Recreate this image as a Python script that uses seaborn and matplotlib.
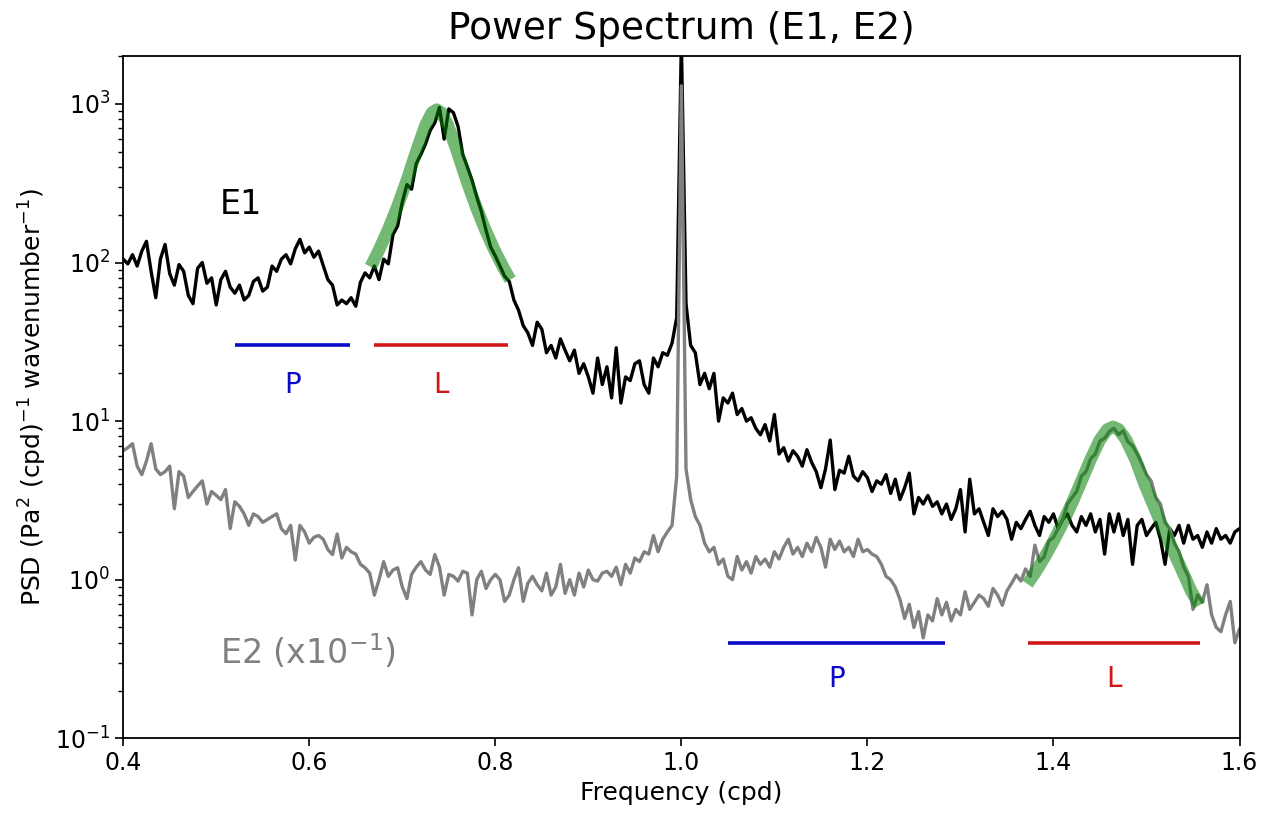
import numpy as np
import pandas as pd
import matplotlib
matplotlib.use("Agg")
import matplotlib.pyplot as plt
import seaborn as sns

# ---------------- data ----------------
freq = np.round(np.linspace(0.4, 1.6, 241), 3)

e1_psd = [
    105, 98, 112, 95, 118, 136, 88, 60, 105, 130,
    85, 72, 97, 88, 62, 55, 92, 100, 74, 80,
    54, 78, 88, 70, 64, 72, 58, 62, 76, 80,
    66, 70, 95, 88, 105, 112, 98, 122, 140, 115,
    125, 108, 118, 96, 78, 72, 54, 58, 55, 60,
    53, 75, 86, 80, 95, 78, 105, 98, 150, 170,
    240, 310, 290, 420, 480, 560, 680, 760, 950, 600,
    930, 880, 720, 480, 400, 330, 260, 210, 160, 125,
    110, 95, 82, 76, 58, 50, 40, 36, 30, 42,
    38, 27, 30, 25, 33, 28, 24, 28, 20, 23,
    19, 15, 25, 17, 22, 14, 29, 13, 19, 18,
    23, 24, 17, 15, 25, 22, 27, 26, 31, 45,
    2500, 55, 30, 27, 17, 20, 16, 20, 10, 14,
    13, 15, 11, 12, 10, 10.5, 9, 8.2, 9.5, 7.5,
    11, 6.2, 6.8, 5.6, 6.5, 6.0, 5.2, 6.6, 5.5, 4.8,
    3.8, 5.0, 7.6, 3.7, 4.9, 4.7, 6.0, 4.5, 4.2, 4.8,
    4.4, 3.6, 4.2, 4.0, 4.6, 3.5, 4.3, 3.2, 3.8, 4.7,
    2.6, 3.3, 3.0, 3.4, 2.9, 3.1, 2.6, 3.0, 2.4, 2.8,
    3.7, 2.0, 4.3, 2.6, 2.8, 2.3, 1.9, 2.8, 2.5, 2.7,
    2.4, 1.8, 2.3, 2.1, 2.4, 2.7, 2.2, 1.9, 2.5, 2.3,
    2.6, 2.1, 2.4, 2.6, 2.2, 2.0, 2.5, 2.2, 2.6, 2.0,
    2.4, 1.45, 2.6, 2.0, 2.6, 1.9, 2.4, 1.25, 2.2, 2.4,
    1.9, 2.1, 2.3, 1.8, 1.25, 2.1, 1.9, 2.2, 1.7, 2.2,
    1.8, 1.9, 1.6, 2.0, 1.7, 2.1, 1.8, 1.9, 1.7, 2.0,
    2.1,
]

e2_psd = [
    6.5, 6.8, 7.2, 5.2, 4.6, 5.6, 7.2, 5.0, 4.6, 4.8,
    5.2, 2.8, 4.8, 4.5, 3.3, 3.6, 3.9, 4.2, 3.0, 3.6,
    3.4, 3.2, 3.7, 2.1, 3.1, 2.9, 2.6, 2.2, 2.6, 2.5,
    2.3, 2.4, 2.5, 2.6, 2.1, 1.95, 2.2, 1.33, 2.2, 2.0,
    1.7, 1.85, 1.9, 1.8, 1.55, 1.44, 1.94, 1.37, 1.6, 1.5,
    1.45, 1.25, 1.19, 1.1, 0.8, 1.0, 1.3, 1.05, 1.15, 1.19,
    0.9, 0.76, 1.08, 1.2, 1.3, 1.15, 1.08, 1.44, 1.2, 0.8,
    1.08, 1.05, 0.98, 1.13, 1.1, 0.6, 1.0, 1.13, 0.88, 1.0,
    1.08, 1.0, 0.73, 0.8, 1.0, 1.19, 0.73, 0.95, 1.05, 0.93,
    0.85, 1.1, 0.8, 0.9, 1.25, 0.82, 1.0, 0.8, 1.1, 0.9,
    1.15, 1.0, 0.98, 1.1, 1.13, 1.05, 1.2, 0.93, 1.25, 1.1,
    1.37, 1.3, 1.5, 1.45, 1.9, 1.5, 1.8, 2.0, 2.2, 4.5,
    1300, 5.0, 3.2, 2.5, 2.2, 1.7, 1.5, 1.6, 1.25, 1.35,
    1.05, 1.0, 1.4, 1.15, 1.3, 1.1, 1.4, 1.25, 1.35, 1.2,
    1.5, 1.35, 1.6, 1.8, 1.45, 1.6, 1.4, 1.7, 1.5, 1.85,
    1.6, 1.2, 1.8, 1.55, 1.75, 1.5, 1.6, 1.4, 1.8, 1.5,
    1.55, 1.45, 1.4, 1.25, 1.05, 1.0, 0.9, 0.75, 0.57, 0.7,
    0.5, 0.63, 0.43, 0.6, 0.55, 0.76, 0.6, 0.72, 0.55, 0.65,
    0.6, 0.84, 0.65, 0.72, 0.8, 0.76, 0.68, 0.88, 0.8, 0.69,
    0.85, 0.95, 1.07, 0.98, 1.17, 1.05, 1.65, 1.3, 1.4, 1.75,
    1.85, 2.1, 2.4, 3.0, 3.3, 3.6, 4.5, 4.8, 5.8, 6.2,
    7.5, 7.8, 8.6, 9.0, 8.2, 8.7, 7.4, 7.0, 6.2, 5.4,
    4.6, 4.2, 3.3, 3.0, 2.3, 2.1, 1.7, 1.5, 1.2, 1.05,
    0.65, 0.8, 0.72, 0.93, 0.6, 0.5, 0.47, 0.6, 0.73, 0.4,
    0.49,
]

# Lorentzian-like fits
fit1_freq = [0.666, 0.675, 0.685, 0.695, 0.705, 0.715, 0.725, 0.732, 0.737,
             0.742, 0.749, 0.759, 0.769, 0.779, 0.789, 0.799, 0.809, 0.816]
fit1_psd = [94, 120, 162, 227, 331, 500, 736, 882, 920,
            882, 736, 500, 331, 227, 162, 120, 92, 78]

fit2_freq = [1.372, 1.380, 1.390, 1.400, 1.410, 1.420, 1.430, 1.440, 1.450, 1.458,
             1.464, 1.470, 1.478, 1.488, 1.498, 1.508, 1.518, 1.528, 1.538, 1.548, 1.557]
fit2_psd = [0.94, 1.10, 1.37, 1.75, 2.28, 3.05, 4.18, 5.75, 7.64, 8.87,
            9.2, 8.87, 7.64, 5.75, 4.0, 2.9, 2.1, 1.55, 1.15, 0.85, 0.69]

band_names = ["P", "L", "P", "L"]
band_start = [0.520, 0.670, 1.050, 1.373]
band_end = [0.644, 0.814, 1.283, 1.557]
band_level = [30, 30, 0.4, 0.4]
band_label_level = [17, 17, 0.235, 0.235]

assert len(e1_psd) == len(freq) and len(e2_psd) == len(freq)

# ---------------- style ----------------
sns.set_theme(style="ticks")
plt.rcParams['font.family'] = ['DejaVu Sans']
plt.rcParams.update({
    "text.color": "black",
    "axes.labelcolor": "black",
    "axes.titlecolor": "black",
    "axes.edgecolor": "black",
    "axes.linewidth": 1.3,
    "xtick.color": "black",
    "ytick.color": "black",
    "xtick.major.size": 6, "ytick.major.size": 6,
    "xtick.minor.size": 3.5, "ytick.minor.size": 3.5,
    "xtick.major.width": 1.2, "ytick.major.width": 1.2,
    "ytick.minor.width": 1.0,
})

fig = plt.figure(figsize=(12.7, 8.14), dpi=100)
ax = fig.add_axes([0.097, 0.093, 0.879, 0.838])

df1 = pd.DataFrame({"freq": freq, "psd": e1_psd})
df2 = pd.DataFrame({"freq": freq, "psd": e2_psd})
sns.lineplot(data=df1, x="freq", y="psd", ax=ax, color="black", lw=2.4,
             estimator=None, sort=False)
sns.lineplot(data=df2, x="freq", y="psd", ax=ax, color="gray", lw=2.4,
             estimator=None, sort=False)
sns.lineplot(x=fit1_freq, y=fit1_psd, ax=ax, color="green", lw=9, alpha=0.55,
             estimator=None, sort=False, solid_capstyle="butt")
sns.lineplot(x=fit2_freq, y=fit2_psd, ax=ax, color="green", lw=9, alpha=0.55,
             estimator=None, sort=False, solid_capstyle="butt")

band_colors = {"P": "#0a0ac8", "L": "#d01818"}
for name, s, e, lvl, tl in zip(band_names, band_start, band_end, band_level, band_label_level):
    c = band_colors[name]
    ax.hlines(lvl, s, e, colors=c, lw=2.6)
    ax.text((s + e) / 2, tl, name, color=c, fontsize=20, ha="center", va="center")

ax.text(0.504, 232, "E1", color="black", fontsize=24, ha="left", va="center")
ax.text(0.504, 0.35, "E2 (x10$^{-1}$)", color="gray", fontsize=24, ha="left", va="center")

ax.set_yscale("log")
ax.set_xlim(0.4, 1.6)
ax.set_ylim(0.1, 2000)
ax.set_xticks([0.4, 0.6, 0.8, 1.0, 1.2, 1.4, 1.6])
ax.set_xticklabels(["0.4", "0.6", "0.8", "1.0", "1.2", "1.4", "1.6"])
ax.tick_params(axis="both", which="major", labelsize=17)
ax.set_xlabel("Frequency (cpd)", fontsize=18)
ax.set_ylabel("PSD (Pa$^2$ (cpd)$^{-1}$ wavenumber$^{-1}$)", fontsize=18)
ax.set_title("Power Spectrum (E1, E2)", fontsize=27, pad=12)

fig.savefig("out.png", dpi=100)
